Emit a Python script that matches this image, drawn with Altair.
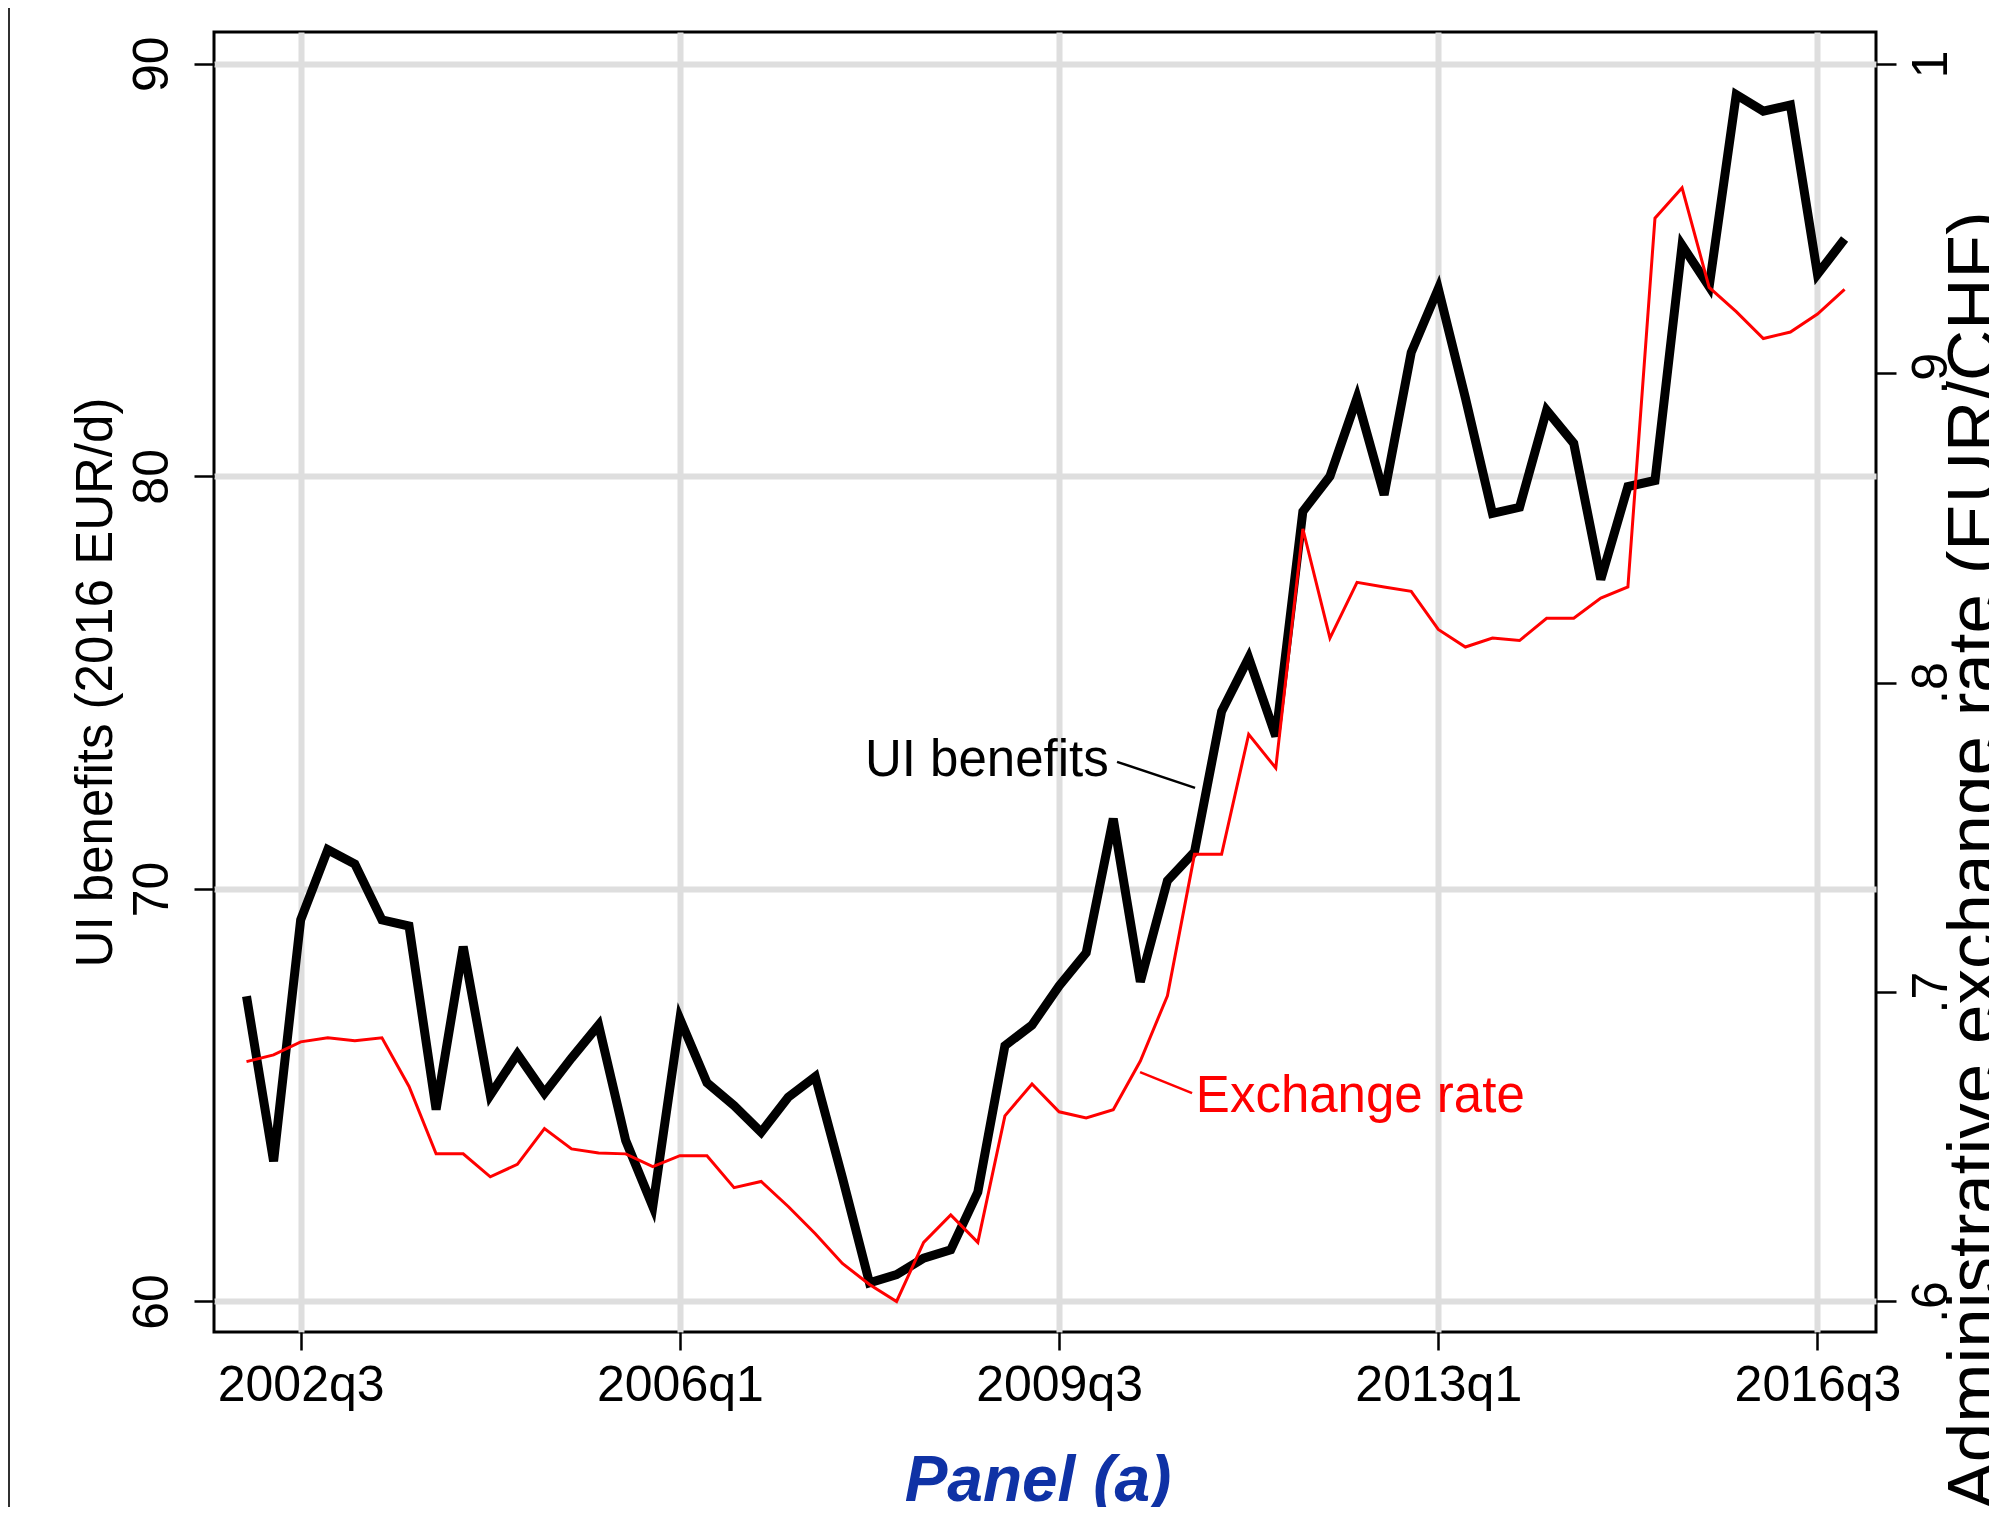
import altair as alt
import pandas as pd

# ---------------- data ----------------
START_YEAR = 2002  # first quarter shown is 2002q1

ui_benefits = [
    67.4, 63.4, 69.25, 70.95,
    70.6, 69.25, 69.1, 64.65,
    68.6, 65.0, 66.0, 65.05,
    65.9, 66.7, 63.9, 62.3,
    66.85, 65.3, 64.75, 64.1,
    64.95, 65.45, 63.0, 60.45,
    60.65, 61.05, 61.25, 62.65,
    66.2, 66.7, 67.65, 68.45,
    71.7, 67.75, 70.2, 70.9,
    74.3, 75.6, 73.7, 79.15,
    80.0, 81.9, 79.55, 83.0,
    84.55, 81.9, 79.1, 79.25,
    81.6, 80.8, 77.5, 79.75,
    79.9, 85.6, 84.6, 89.25,
    88.85, 89.0, 84.9, 85.75,
]

exchange_rate = [
    0.6775, 0.6797, 0.6839, 0.6852,
    0.6843, 0.6852, 0.6695, 0.6477,
    0.6477, 0.6403, 0.6443, 0.6559,
    0.6493, 0.6480, 0.6477, 0.6436,
    0.6471, 0.6471, 0.6368, 0.6388,
    0.6307, 0.6219, 0.6123, 0.6055,
    0.6000, 0.6191, 0.6280, 0.6191,
    0.6600, 0.6703, 0.6613, 0.6593,
    0.6620, 0.6777, 0.6988, 0.7445,
    0.7445, 0.7833, 0.7724, 0.8497,
    0.8144, 0.8324, 0.8309, 0.8295,
    0.8172, 0.8115, 0.8144, 0.8136,
    0.8208, 0.8208, 0.8273, 0.8309,
    0.9501, 0.9599, 0.9277, 0.9199,
    0.9112, 0.9133, 0.9191, 0.9271,
]

quarter_labels = [f"{START_YEAR + i // 4}q{i % 4 + 1}" for i in range(len(ui_benefits))]

x_tick_index = [2, 16, 30, 44, 58]
x_tick_labels = ["2002q3", "2006q1", "2009q3", "2013q1", "2016q3"]
left_ticks = [60, 70, 80, 90]
right_ticks = [0.6, 0.7, 0.8, 0.9, 1.0]

# annotation labels (in quarter-index / left-axis units)
ann_text_t = [22.83, 35.05]
ann_text_v = [72.74, 64.59]
ann_text = ["UI benefits", "Exchange rate"]
ann_text_color = ["black", "#ff0000"]
lead_t = [32.14, 32.99]
lead_v = [73.08, 65.56]
lead_t2 = [35.02, 34.91]
lead_v2 = [72.45, 65.05]

panel_title = ["Panel (a)"]

# ---------------- tables ----------------
df = pd.DataFrame({
    "t": list(range(len(ui_benefits))),
    "quarter": quarter_labels,
    "ui": ui_benefits,
    "fx": exchange_rate,
})
ann_df = pd.DataFrame({"t": ann_text_t, "v": ann_text_v, "label": ann_text, "c": ann_text_color})
lead_df = pd.DataFrame({"t": lead_t, "v": lead_v, "t2": lead_t2, "v2": lead_v2, "c": ann_text_color})
title_df = pd.DataFrame({"label": panel_title})

FONT = "Liberation Sans"
GRID = "#dedede"
X_DOMAIN = [-1.2, 60.16]
L_DOMAIN = [59.26, 90.77]
R_DOMAIN = [0.6 + (L_DOMAIN[0] - 60) / 75, 0.6 + (L_DOMAIN[1] - 60) / 75]

tick_idx_js = "[" + ",".join(str(v) for v in x_tick_index) + "]"
tick_lab_js = "[" + ",".join(f"'{s}'" for s in x_tick_labels) + "]"

x_scale = alt.Scale(domain=X_DOMAIN, nice=False, zero=False)
x_axis = alt.Axis(
    values=x_tick_index,
    labelExpr=f"{tick_lab_js}[indexof({tick_idx_js}, datum.value)]",
    title=None, grid=True, gridColor=GRID, gridWidth=6,
    tickSize=18, tickWidth=2.5, tickColor="black",
    labelPadding=50, labelBaseline="alphabetic", labelFontSize=50,
    labelFlush=False, domain=False,
)


def x_enc(field="t:Q"):
    # identical x axis definition in every layer so that the shared axis merges
    return alt.X(field, scale=x_scale, axis=x_axis)


l_scale = alt.Scale(domain=L_DOMAIN, nice=False, zero=False)
l_axis = alt.Axis(
    orient="left", values=left_ticks, format="d",
    title="UI benefits (2016 EUR/d)", titleFontSize=51, titleAngle=270,
    titleX=-103, titleY=650, titleAlign="center", titleBaseline="alphabetic",
    labelAngle=270, labelAlign="center", labelBaseline="alphabetic",
    labelFontSize=50, labelPadding=27,
    grid=True, gridColor=GRID, gridWidth=6,
    tickSize=20, tickWidth=2.5, tickColor="black", domain=False,
)

r_axis = alt.Axis(
    orient="right", values=right_ticks,
    labelExpr="datum.value >= 0.999 ? '1' : replace(format(datum.value, '.1f'), '0.', '.')",
    title="Administrative exchange rate (EUR/CHF)", titleFontSize=71, titleAngle=270,
    titleX=120, titleY=828, titleAlign="center", titleBaseline="alphabetic",
    labelAngle=270, labelAlign="center", labelBaseline="alphabetic",
    labelFontSize=50, labelPadding=50,
    grid=False, tickSize=20, tickWidth=2.5, tickColor="black", domain=False,
)

black_line = alt.Chart(df).mark_line(color="black", strokeWidth=9, strokeJoin="miter").encode(
    x=x_enc(),
    y=alt.Y("ui:Q", scale=l_scale, axis=l_axis),
)

red_line = alt.Chart(df).mark_line(color="#ff0000", strokeWidth=3).encode(
    x=x_enc(),
    y=alt.Y("fx:Q", scale=alt.Scale(domain=R_DOMAIN, nice=False, zero=False), axis=r_axis),
)

ann_text_layer = alt.Chart(ann_df).mark_text(
    font=FONT, fontSize=51, align="left", baseline="alphabetic"
).encode(
    x=x_enc(),
    y=alt.Y("v:Q", scale=l_scale, axis=None),
    text="label:N",
    color=alt.Color("c:N", scale=None),
)

lead_layer = alt.Chart(lead_df).mark_rule(strokeWidth=2.5).encode(
    x=x_enc(),
    y=alt.Y("v:Q", scale=l_scale, axis=None),
    x2="t2:Q",
    y2="v2:Q",
    color=alt.Color("c:N", scale=None),
)

# outer figure border and panel caption (decoration, fixed in pixels)
border = alt.Chart(title_df).mark_rule(color="#303030", strokeWidth=2).encode(
    x=alt.value(-205), y=alt.value(-24), y2=alt.value(1480)
)
caption = alt.Chart(title_df).mark_text(
    font=FONT, fontSize=64, fontStyle="italic", fontWeight="bold",
    color="#0f32a5", align="center", baseline="alphabetic",
).encode(x=alt.value(824), y=alt.value(1469), text="label:N")

chart = alt.layer(
    black_line, red_line, ann_text_layer, lead_layer, border, caption
).resolve_scale(y="independent").properties(
    width=1662,
    height=1300,
    autosize="none",
    padding={"left": 206, "top": 24, "right": 113, "bottom": 175},
    background="white",
).configure_view(
    stroke="black", strokeWidth=3
).configure_axis(
    labelFont=FONT, titleFont=FONT, labelColor="black", titleColor="black",
    titleFontWeight="normal",
)

chart.save("out.html", embed_options={"renderer": "svg", "actions": False})
